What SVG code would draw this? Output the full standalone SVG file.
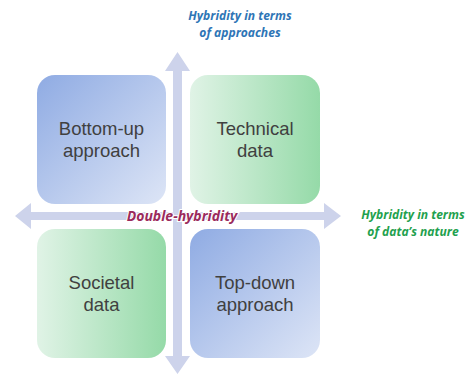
<svg xmlns="http://www.w3.org/2000/svg" width="468" height="376" viewBox="0 0 468 376">
<defs>
<linearGradient id="gBlue" x1="0" y1="0" x2="1" y2="1">
<stop offset="0" stop-color="#8FABE3"/>
<stop offset="1" stop-color="#DDE5F6"/>
</linearGradient>
<linearGradient id="gGreen" x1="0" y1="0" x2="1" y2="0">
<stop offset="0" stop-color="#E0F3E6"/>
<stop offset="1" stop-color="#95DAA8"/>
</linearGradient>
<style>
.box text{font-family:"Liberation Sans",Arial,sans-serif;font-size:18.5px;fill:#404040;text-anchor:middle}
.lbl{font-family:"Open Sans","Liberation Sans",sans-serif;font-size:12.1px;font-weight:bold;font-style:italic;text-anchor:middle}
.arrow{fill:#CDD3EB}
</style>
</defs>
<rect width="468" height="376" fill="#FFFFFF"/>
<g id="connectors">
<polygon class="arrow" points="177.5,52 190,71 182,71 182,356 190,356 177.5,374 165,356 173,356 173,71 165,71"/>
<polygon class="arrow" points="15,216 31,203 31,212 324,212 324,203 341,216 324,229 324,220 31,220 31,229"/>
</g>
<g id="bottom-up" class="box">
<rect x="37" y="75" width="129" height="129" rx="18" fill="url(#gBlue)"/>
<text x="101.5" y="135">Bottom-up</text>
<text x="101.5" y="157">approach</text>
</g>
<g id="technical" class="box">
<rect x="190" y="75" width="130" height="129" rx="18" fill="url(#gGreen)"/>
<text x="255" y="135">Technical</text>
<text x="255" y="157">data</text>
</g>
<g id="societal" class="box">
<rect x="37" y="229" width="129" height="129" rx="18" fill="url(#gGreen)"/>
<text x="101.5" y="289">Societal</text>
<text x="101.5" y="311">data</text>
</g>
<g id="top-down" class="box">
<rect x="190" y="229" width="130" height="129" rx="18" fill="url(#gBlue)"/>
<text x="255" y="289">Top-down</text>
<text x="255" y="311">approach</text>
</g>
<g id="labels">
<text class="lbl" x="240" y="20" fill="#2E75B6">Hybridity in terms</text>
<text class="lbl" x="240" y="37" fill="#2E75B6">of approaches</text>
<text class="lbl" x="413" y="219" fill="#1FA14E">Hybridity in terms</text>
<text class="lbl" x="413" y="236" fill="#1FA14E">of data’s nature</text>
<text class="lbl" x="182" y="221" fill="#9B2A5C" style="font-size:14px" stroke="#FFFFFF" stroke-width="2" paint-order="stroke">Double-hybridity</text>
</g>
</svg>
